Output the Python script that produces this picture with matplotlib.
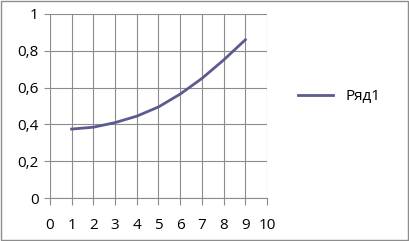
import matplotlib.pyplot as plt
from matplotlib.patches import Rectangle

# data
x_vals = [1, 2, 3, 4, 5, 6, 7, 8, 9]
y_vals = [0.375, 0.385, 0.41, 0.445, 0.495, 0.565, 0.65, 0.75, 0.86]
series_name = 'Ряд1'
x_ticks = list(range(0, 11))
y_ticks = [0, 0.2, 0.4, 0.6, 0.8, 1]

line_col = '#5b5b8f'
grid_col = '#8c8c8c'

plt.rcParams['font.family'] = ['Open Sans', 'DejaVu Sans']

fig = plt.figure(figsize=(4.09, 2.41), dpi=100)
ax = fig.add_axes([0.122, 0.178, 0.531, 0.764])

ax.plot(x_vals, y_vals, color=line_col, lw=2, label=series_name)

ax.set_xlim(0, 10)
ax.set_ylim(0, 1)
ax.set_xticks(x_ticks)
ax.set_yticks(y_ticks)
ax.set_xticklabels([str(t) for t in x_ticks])
ax.set_yticklabels([('%g' % t).replace('.', ',') for t in y_ticks])
ax.grid(True, color=grid_col, lw=0.8)
ax.set_axisbelow(True)
for s in ax.spines.values():
    s.set_visible(False)
ax.spines['bottom'].set_visible(True)
ax.spines['bottom'].set_color(grid_col)
ax.tick_params(axis='x', length=5, color=grid_col, labelsize=11, pad=9)
ax.tick_params(axis='y', length=4, color=grid_col, labelsize=11, pad=4)

ax.legend(loc='center left', bbox_to_anchor=(1.08, 0.55), frameon=False,
          fontsize=11, handlelength=2.3)

fig.patches.append(Rectangle((0.003, 0.005), 0.994, 0.99, transform=fig.transFigure,
                             fill=False, edgecolor='#8c8c8c', lw=1))

fig.savefig('out.png', dpi=100)
